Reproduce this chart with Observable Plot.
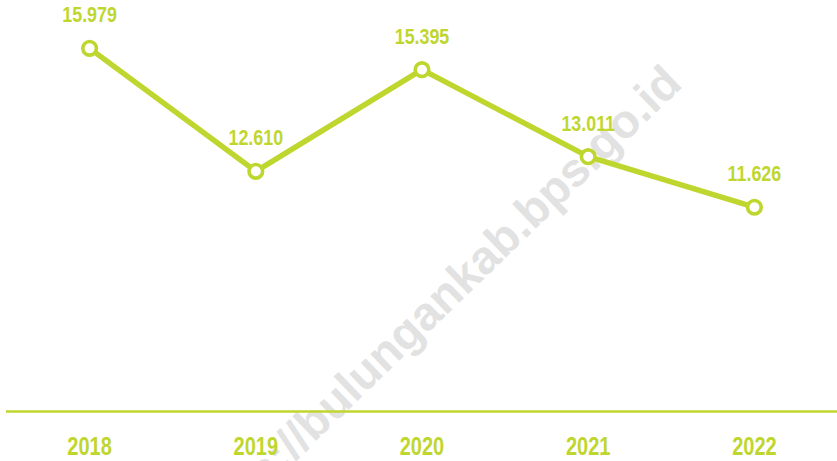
<!DOCTYPE html>
<html>
<head>
<meta charset="utf-8">
<script src="https://cdn.jsdelivr.net/npm/d3@7"></script>
<script src="https://cdn.jsdelivr.net/npm/@observablehq/plot@0.6"></script>
<style>
  html, body { margin: 0; padding: 0; background: #fff; }
  #chart svg { display: block; }
</style>
</head>
<body>
<div id="chart"></div>
<script>
const years = [2018, 2019, 2020, 2021, 2022];
const values = [15.979, 12.610, 15.395, 13.011, 11.626];
const valueLabels = ["15.979", "12.610", "15.395", "13.011", "11.626"];
const watermark = ["https://bulungankab.bps.go.id"];

const data = years.map((y, i) => ({year: y, value: values[i], label: valueLabels[i]}));
const green = "#bfd62f";
const font = "'Liberation Sans', Arial, sans-serif";

const chart = Plot.plot({
  width: 837,
  height: 461,
  marginLeft: 6,
  marginRight: 0,
  marginTop: 0,
  marginBottom: 50,
  x: {domain: [2017.5, 2022.5]},
  y: {domain: [6.03, 17.29], axis: null},
  style: {fontFamily: font, background: "#fff"},
  marks: [
    Plot.text(watermark, {
      text: d => d, frameAnchor: "middle", dx: 10, dy: 102, rotate: -44,
      fontSize: 47, fontWeight: "bold", fill: "#e2e2e2",
      fontFamily: "'Liberation Sans', Arial, sans-serif"
    }),
    Plot.ruleY([6.03], {stroke: green, strokeWidth: 2.6}),
    Plot.axisX({
      ticks: years, tickFormat: d => String(d), tickSize: 0, tickPadding: 26,
      fontSize: 25, fontWeight: "bold", color: green, label: null,
      fontFamily: font, className: "yearlab"
    }),
    Plot.line(data, {x: "year", y: "value", stroke: green, strokeWidth: 5.5, strokeLinejoin: "round"}),
    Plot.dot(data, {x: "year", y: "value", r: 6.8, fill: "#fff", stroke: green, strokeWidth: 3.6}),
    Plot.text(data, {
      x: "year", y: "value", text: "label", dy: -33, lineAnchor: "middle",
      fontSize: 21.5, fontWeight: "bold", fill: green, fontFamily: font, className: "vallab"
    })
  ]
});
document.getElementById("chart").appendChild(chart);

// condensed look: squeeze glyphs horizontally
function squeeze(sel, ratio) {
  d3.select(chart).selectAll(sel).each(function() {
    const w = this.getComputedTextLength();
    this.setAttribute("textLength", (w * ratio).toFixed(1));
    this.setAttribute("lengthAdjust", "spacingAndGlyphs");
  });
}
squeeze(".yearlab text", 0.8);
squeeze(".vallab text", 0.83);
</script>
</body>
</html>
